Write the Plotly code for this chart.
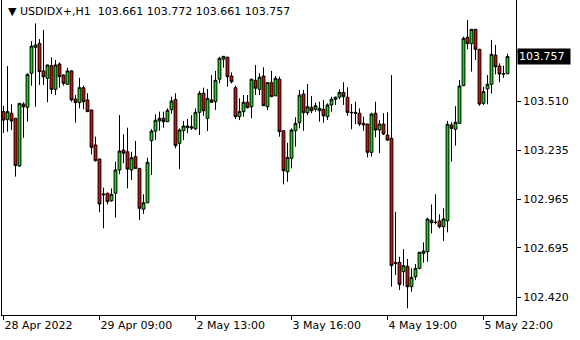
import plotly.graph_objects as go

opens = [
103.451, 103.408, 103.442, 103.414, 103.149, 103.493, 103.475, 103.664, 103.808, 103.830,
103.677, 103.636, 103.706, 103.575, 103.715, 103.654, 103.603, 103.677, 103.521, 103.501,
103.584, 103.516, 103.460, 103.266, 103.188, 102.994, 102.998, 102.956, 102.998, 103.127,
103.238, 103.228, 103.127, 103.201, 103.136, 102.909, 102.945, 103.290, 103.343, 103.399,
103.414, 103.395, 103.462, 103.519, 103.275, 103.345, 103.362, 103.367, 103.355, 103.447,
103.553, 103.414, 103.516, 103.506, 103.631, 103.742, 103.753, 103.649, 103.584, 103.423,
103.451, 103.503, 103.478, 103.625, 103.575, 103.649, 103.478, 103.612, 103.539, 103.631,
103.345, 103.117, 103.192, 103.345, 103.390, 103.549, 103.445, 103.475, 103.464, 103.456,
103.464, 103.423, 103.488, 103.519, 103.531, 103.558, 103.531, 103.447, 103.447, 103.442,
103.386, 103.382, 103.225, 103.442, 103.349, 103.382, 103.321, 103.303, 102.614, 102.614,
102.562, 102.592, 102.479, 102.534, 102.581, 102.664, 102.673, 102.848, 102.836, 102.844,
102.812, 102.845, 103.377, 103.353, 103.386, 103.595, 103.864, 103.828, 103.908, 103.797,
103.497, 103.577, 103.603, 103.765, 103.704, 103.660, 103.661]

highs = [
103.484, 103.704, 103.492, 103.416, 103.497, 103.503, 103.664, 103.843, 103.941, 103.854,
103.904, 103.712, 103.753, 103.738, 103.723, 103.658, 103.695, 103.680, 103.543, 103.639,
103.595, 103.553, 103.462, 103.312, 103.190, 103.029, 103.000, 103.025, 103.173, 103.432,
103.325, 103.362, 103.228, 103.288, 103.138, 102.992, 103.195, 103.355, 103.436, 103.451,
103.451, 103.469, 103.534, 103.553, 103.358, 103.399, 103.410, 103.432, 103.469, 103.566,
103.584, 103.577, 103.654, 103.677, 103.756, 103.760, 103.756, 103.669, 103.595, 103.525,
103.543, 103.543, 103.633, 103.710, 103.664, 103.697, 103.614, 103.677, 103.649, 103.645,
103.347, 103.278, 103.358, 103.420, 103.571, 103.571, 103.604, 103.538, 103.501, 103.506,
103.516, 103.497, 103.534, 103.534, 103.575, 103.614, 103.586, 103.493, 103.506, 103.469,
103.423, 103.384, 103.445, 103.506, 103.404, 103.442, 103.447, 103.654, 102.895, 102.645,
102.688, 102.633, 102.581, 102.605, 102.672, 102.725, 102.862, 102.936, 102.992, 102.881,
102.914, 103.399, 103.392, 103.482, 103.627, 103.867, 103.960, 103.910, 103.910, 103.799,
103.589, 103.654, 103.849, 103.821, 103.719, 103.706, 103.772]

lows = [
103.332, 103.340, 103.349, 103.090, 103.145, 103.306, 103.395, 103.595, 103.478, 103.599,
103.599, 103.503, 103.549, 103.543, 103.584, 103.595, 103.599, 103.506, 103.390, 103.469,
103.464, 103.449, 103.214, 103.173, 102.892, 102.803, 102.936, 102.951, 102.862, 103.103,
103.164, 103.025, 103.071, 103.134, 102.849, 102.883, 102.943, 103.099, 103.293, 103.345,
103.362, 103.393, 103.439, 103.247, 103.132, 103.293, 103.331, 103.349, 103.349, 103.321,
103.428, 103.343, 103.501, 103.460, 103.608, 103.695, 103.589, 103.608, 103.410, 103.404,
103.423, 103.470, 103.414, 103.543, 103.543, 103.482, 103.460, 103.532, 103.537, 103.312,
103.047, 103.062, 103.136, 103.256, 103.358, 103.345, 103.432, 103.442, 103.451, 103.395,
103.390, 103.404, 103.451, 103.488, 103.519, 103.488, 103.428, 103.353, 103.382, 103.371,
103.345, 103.197, 103.201, 103.308, 103.220, 103.321, 103.288, 102.479, 102.544, 102.461,
102.484, 102.359, 102.451, 102.516, 102.576, 102.612, 102.618, 102.775, 102.825, 102.803,
102.733, 102.781, 103.173, 103.262, 103.384, 103.593, 103.797, 103.673, 103.738, 103.484,
103.488, 103.492, 103.551, 103.658, 103.614, 103.639, 103.661]

closes = [
103.404, 103.451, 103.399, 103.151, 103.497, 103.478, 103.658, 103.815, 103.821, 103.673,
103.645, 103.710, 103.575, 103.710, 103.645, 103.608, 103.677, 103.516, 103.501, 103.584,
103.506, 103.451, 103.253, 103.179, 102.938, 102.990, 102.951, 102.992, 103.127, 103.232,
103.220, 103.132, 103.195, 103.136, 102.914, 102.945, 103.170, 103.343, 103.403, 103.414,
103.395, 103.458, 103.510, 103.262, 103.349, 103.371, 103.371, 103.360, 103.447, 103.553,
103.456, 103.525, 103.503, 103.625, 103.747, 103.758, 103.645, 103.617, 103.423, 103.451,
103.503, 103.473, 103.631, 103.581, 103.642, 103.484, 103.612, 103.534, 103.636, 103.340,
103.123, 103.197, 103.349, 103.386, 103.543, 103.445, 103.478, 103.456, 103.484, 103.469,
103.428, 103.488, 103.519, 103.531, 103.558, 103.534, 103.447, 103.445, 103.442, 103.382,
103.377, 103.225, 103.438, 103.349, 103.382, 103.327, 103.293, 102.596, 102.607, 102.492,
102.596, 102.479, 102.531, 102.581, 102.670, 102.677, 102.855, 102.834, 102.836, 102.812,
102.855, 103.381, 103.358, 103.392, 103.593, 103.858, 103.828, 103.908, 103.797, 103.493,
103.562, 103.603, 103.769, 103.700, 103.660, 103.661, 103.757]

bar_index = list(range(len(closes)))

time_tick_bars = [0, 24, 48, 72, 96, 120]
time_tick_labels = ["28 Apr 2022", "29 Apr 09:00", "2 May 13:00", "3 May 16:00",
                    "4 May 19:00", "5 May 22:00"]

# the 103.785 level sits behind the current-price box, so only its tick mark shows
price_ticks = [103.785, 103.510, 103.235, 102.965, 102.695, 102.420]
price_tick_labels = ["", "103.510", "103.235", "102.965", "102.695", "102.420"]

symbol = "USDIDX+,H1"
last_ohlc = ["103.661", "103.772", "103.661", "103.757"]
last_price = 103.757

FONT = "DejaVu Sans"

fig = go.Figure(go.Candlestick(
    x=bar_index, open=opens, high=highs, low=lows, close=closes,
    increasing=dict(fillcolor="#00e600", line=dict(color="black", width=1)),
    decreasing=dict(fillcolor="#f00000", line=dict(color="black", width=1)),
    whiskerwidth=0, hoverinfo="skip",
))

fig.update_layout(
    width=580, height=340,
    margin=dict(l=2, r=64, t=0, b=25),
    paper_bgcolor="white", plot_bgcolor="white",
    showlegend=False, boxgap=0.0,
    font=dict(family=FONT, size=11, color="black"),
    xaxis=dict(
        range=[-0.375, 128.125], rangeslider=dict(visible=False),
        showgrid=False, zeroline=False, showline=True, linecolor="black", linewidth=1,
        mirror=False, ticks="outside", ticklen=4, tickcolor="black",
        tickvals=time_tick_bars, ticktext=time_tick_labels,
        ticklabelposition="outside right",
        tickfont=dict(family=FONT, size=11, color="black"),
    ),
    yaxis=dict(
        side="right", range=[102.3218, 104.0708],
        showgrid=False, zeroline=False, showline=True, linecolor="black", linewidth=1,
        mirror=True, ticks="outside", ticklen=4, tickcolor="black",
        tickvals=price_ticks, ticktext=price_tick_labels,
        tickfont=dict(family=FONT, size=11, color="black"),
    ),
)

fig.add_annotation(
    xref="paper", yref="paper", x=0, y=1, xanchor="left", yanchor="top",
    xshift=4, yshift=-3, showarrow=False,
    text="▼ " + symbol + "  " + " ".join(last_ohlc),
    font=dict(family=FONT, size=11, color="black"),
)

fig.add_annotation(
    xref="paper", yref="y", x=1, y=last_price, xanchor="left", yanchor="middle",
    xshift=1, showarrow=False, text=f"{last_price:.3f}",
    bgcolor="black", font=dict(family=FONT, size=11, color="white"),
    width=50, height=13, align="left", borderpad=1,
)

fig.write_html("out.html")
